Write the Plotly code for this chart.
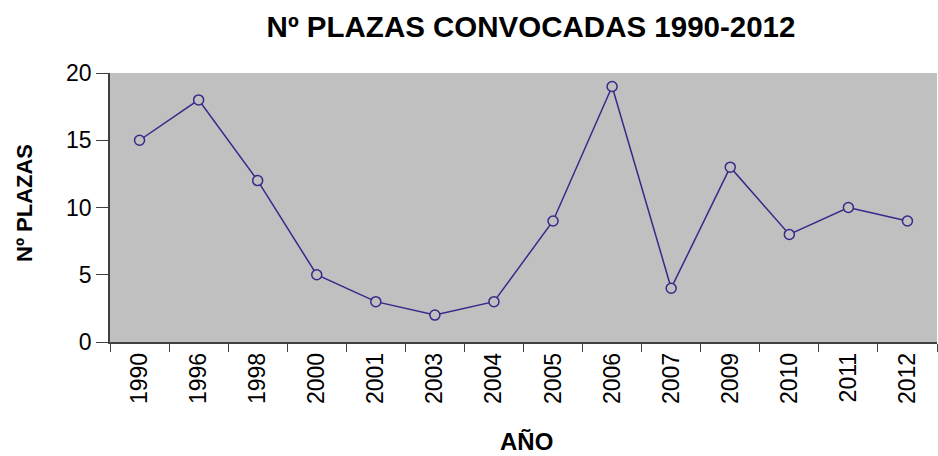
import plotly.graph_objects as go

years = ["1990", "1996", "1998", "2000", "2001", "2003", "2004", "2005",
         "2006", "2007", "2009", "2010", "2011", "2012"]
plazas = [15, 18, 12, 5, 3, 2, 3, 9, 19, 4, 13, 8, 10, 9]
y_ticks = [0, 5, 10, 15, 20]

line_color = "#37288a"
bg = "#c0c0c0"
font_family = "Liberation Sans, Arial, sans-serif"

W, H = 938, 456
L, R, T, B = 110, 1, 73, 114
pw, ph = W - L - R, H - T - B

fig = go.Figure()
fig.add_trace(go.Scatter(
    x=years, y=plazas, mode="lines+markers",
    line=dict(color=line_color, width=1.5),
    marker=dict(symbol="circle", size=10, color=bg,
                line=dict(color=line_color, width=1.5)),
    showlegend=False,
))

fig.update_layout(
    width=W, height=H,
    margin=dict(l=L, r=R, t=T, b=B),
    paper_bgcolor="white",
    plot_bgcolor=bg,
    font=dict(family=font_family, color="black"),
    title=dict(text="<b>Nº PLAZAS CONVOCADAS 1990-2012</b>",
               x=531 / W, xref="container", xanchor="center",
               y=1 - 27 / H, yref="container", yanchor="middle",
               font=dict(size=29.5, family=font_family)),
)
fig.update_xaxes(
    type="category", range=[-0.5, len(years) - 0.5],
    tickson="boundaries", ticks="outside", ticklen=8,
    tickcolor="#404040", tickangle=-90, tickfont=dict(size=23),
    showline=True, linecolor="#404040", linewidth=1.5,
    showgrid=False, zeroline=False,
)
fig.update_yaxes(
    range=[0, 20], tickvals=y_ticks, ticks="outside", ticklen=12,
    tickcolor="#404040", tickfont=dict(size=23),
    showline=True, linecolor="#404040", linewidth=1.5,
    showgrid=False, zeroline=False,
)
fig.add_annotation(text="<b>Nº PLAZAS</b>", xref="paper", yref="paper",
                   x=-(L - 24) / pw, y=(H - B - 203) / ph, textangle=-90,
                   showarrow=False, font=dict(size=22),
                   xanchor="center", yanchor="middle")
fig.add_annotation(text="<b>AÑO</b>", xref="paper", yref="paper",
                   x=(526 - L) / pw, y=-(441 - (H - B)) / ph,
                   showarrow=False, font=dict(size=24),
                   xanchor="center", yanchor="middle")

fig.write_html("out.html", config={"displayModeBar": False},
               post_script="document.body.style.margin='0';")
